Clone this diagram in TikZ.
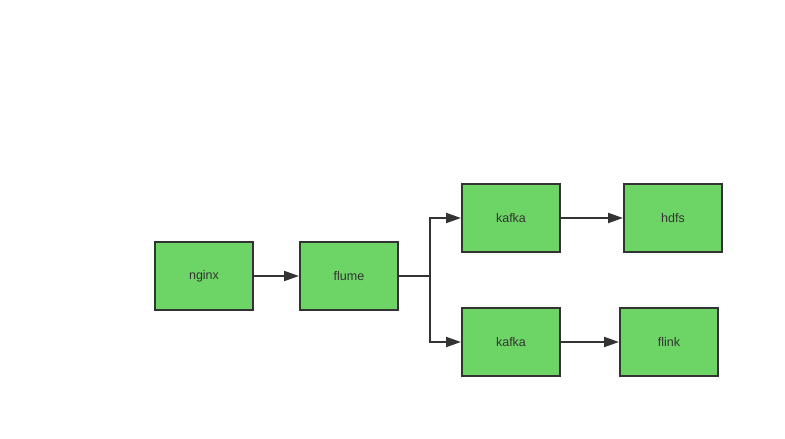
\documentclass[tikz,border=0pt]{standalone}
\usepackage{fontspec}
\setmainfont{Liberation Sans}
\usepackage{tikz}
\usetikzlibrary{arrows.meta}
\definecolor{lgreen}{HTML}{6DD566}
\definecolor{dgray}{HTML}{333333}
\tikzstyle{none}=[inner sep=0pt]
\tikzstyle{block}=[rectangle,fill=lgreen,draw=dgray,line width=2pt,minimum width=98pt,minimum height=68pt,text=dgray,font=\fontsize{12.5}{14}\selectfont]
\tikzstyle{flow}=[-{Triangle[length=15pt,width=10pt]},draw=dgray,line width=2pt]
\pgfdeclarelayer{edgelayer}
\pgfdeclarelayer{nodelayer}
\pgfsetlayers{edgelayer,nodelayer,main}

\begin{document}
\begin{tikzpicture}[x=1pt,y=-1pt]
	\useasboundingbox (0,0) rectangle (785,439);
	\begin{pgfonlayer}{nodelayer}
		\node [style=block] (nginx) at (204, 276) {nginx};
		\node [style=block] (flume) at (349, 276) {flume};
		\node [style=block] (kafkaA) at (511, 218) {kafka};
		\node [style=block] (hdfs) at (673, 218) {hdfs};
		\node [style=block] (kafkaB) at (511, 342) {kafka};
		\node [style=block] (flink) at (669, 342) {flink};

		\node [style=none] (split) at (430, 276) {};
	\end{pgfonlayer}
	\begin{pgfonlayer}{edgelayer}
		\draw [style=flow] (nginx) to (flume);
		\draw [style=flow] (flume.east) -- (split.center) |- (kafkaA.west);
		\draw [style=flow] (flume.east) -- (split.center) |- (kafkaB.west);
		\draw [style=flow] (kafkaA) to (hdfs);
		\draw [style=flow] (kafkaB) to (flink);
	\end{pgfonlayer}
\end{tikzpicture}
\end{document}
